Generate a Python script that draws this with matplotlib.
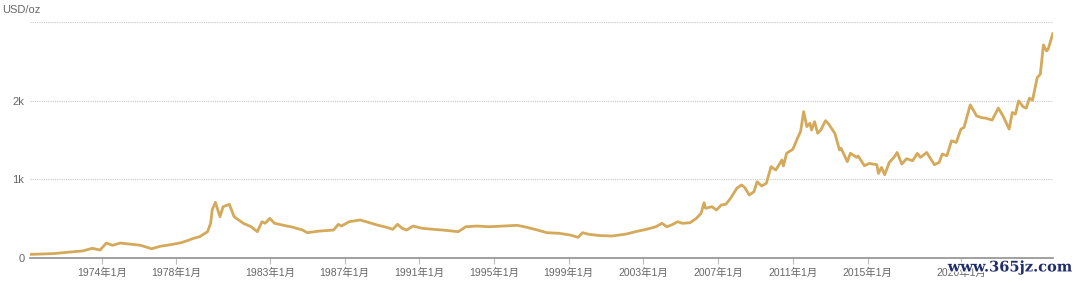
import pandas as pd
import matplotlib
matplotlib.use('Agg')
import matplotlib.pyplot as plt
import matplotlib.dates as mdates
import matplotlib.patheffects as pe

plt.rcParams['font.family'] = ['Liberation Sans', 'Noto Sans CJK SC', 'DejaVu Sans']

# 金价 (USD/oz)，按图读取的月份与数值
meses = [
    '1970-03', '1971-06', '1972-05', '1973-01', '1973-07', '1973-12', '1974-04', '1974-08',
    '1975-01', '1975-07', '1976-02', '1976-09', '1977-03', '1977-09', '1978-04', '1978-08',
    '1978-12', '1979-04', '1979-09', '1979-11', '1979-12', '1980-02', '1980-05', '1980-07',
    '1980-11', '1981-02', '1981-05', '1981-08', '1982-01', '1982-05', '1982-08', '1982-10',
    '1983-01', '1983-04', '1983-09', '1984-04', '1984-10', '1985-01', '1985-09', '1986-06',
    '1986-09', '1986-11', '1987-04', '1987-11', '1988-03', '1988-10', '1989-04', '1989-08',
    '1989-11', '1990-02', '1990-05', '1990-09', '1991-03', '1991-10', '1992-04', '1992-10',
    '1993-02', '1993-07', '1994-02', '1994-10', '1995-07', '1996-04', '1996-10', '1997-05',
    '1997-11', '1998-07', '1999-02', '1999-07', '1999-10', '2000-02', '2000-09', '2001-05',
    '2002-02', '2002-08', '2003-03', '2003-09', '2004-01', '2004-04', '2004-07', '2004-11',
    '2005-02', '2005-07', '2005-11', '2006-02', '2006-04', '2006-05', '2006-09', '2006-12',
    '2007-03', '2007-06', '2007-09', '2008-01', '2008-04', '2008-06', '2008-09', '2008-12',
    '2009-02', '2009-05', '2009-08', '2009-11', '2010-02', '2010-06', '2010-07', '2010-09',
    '2011-01', '2011-04', '2011-06', '2011-08', '2011-10', '2011-12', '2012-01', '2012-03',
    '2012-05', '2012-07', '2012-10', '2012-12', '2013-04', '2013-07', '2013-08', '2013-12',
    '2014-02', '2014-06', '2014-07', '2014-11', '2015-02', '2015-07', '2015-08', '2015-10',
    '2015-12', '2016-03', '2016-06', '2016-08', '2016-11', '2017-02', '2017-06', '2017-09',
    '2017-11', '2018-03', '2018-08', '2018-11', '2019-01', '2019-04', '2019-07', '2019-10',
    '2020-01', '2020-03', '2020-07', '2020-08', '2020-11', '2021-02', '2021-05', '2021-09',
    '2022-01', '2022-04', '2022-08', '2022-10', '2022-12', '2023-02', '2023-05', '2023-07',
    '2023-09', '2023-11', '2024-02', '2024-04', '2024-06', '2024-08', '2024-09', '2024-12',
]
precos = [
    40, 50, 70, 85, 118, 96, 185, 156,
    185, 172, 156, 112, 145, 163, 189, 215,
    245, 266, 330, 437, 607, 705, 521, 649,
    679, 521, 479, 437, 393, 330, 457, 437,
    500, 437, 415, 386, 351, 317, 338, 351,
    424, 402, 457, 479, 457, 415, 386, 360,
    424, 373, 351, 402, 373, 360, 351, 338,
    330, 393, 402, 393, 402, 411, 386, 351,
    317, 309, 287, 258, 317, 296, 280, 275,
    300, 330, 360, 393, 437, 393, 415, 457,
    437, 444, 500, 564, 700, 628, 649, 607,
    670, 680, 756, 884, 926, 897, 798, 840,
    968, 913, 948, 1160, 1117, 1245, 1169, 1331,
    1382, 1522, 1607, 1862, 1671, 1714, 1628, 1734,
    1586, 1628, 1747, 1705, 1586, 1373, 1395, 1224,
    1331, 1278, 1296, 1172, 1201, 1185, 1074, 1150,
    1057, 1214, 1278, 1341, 1193, 1261, 1236, 1329,
    1278, 1341, 1185, 1214, 1321, 1299, 1490, 1469,
    1639, 1660, 1949, 1915, 1809, 1787, 1779, 1754,
    1907, 1809, 1639, 1851, 1830, 2000, 1924, 1907,
    2034, 2009, 2297, 2340, 2713, 2637, 2658, 2857,
]
anos_ticks = [1974, 1978, 1983, 1987, 1991, 1995, 1999, 2003, 2007, 2011, 2015, 2020]
y_ticks = [0, 1000, 2000, 3000]
y_labels = ['0', '1k', '2k', '']

datas = pd.to_datetime(meses)

fig = plt.figure(figsize=(10.8, 2.83), dpi=100)
ax = fig.add_axes([0.0278, 0.090, 0.947, 0.8305])

ax.plot(datas, precos, color='#D4A95A', linewidth=2.0, solid_joinstyle='round')

ax.set_xlim(datas[0], datas[-1])
ax.set_ylim(0, 3000)

ax.set_yticks(y_ticks)
ax.set_yticklabels(y_labels)
ax.tick_params(axis='y', length=0, pad=4, labelsize=8, labelcolor='#666666')
ax.yaxis.grid(True, color='#c8c8c8', linestyle=(0, (1, 1)), linewidth=0.8)

tick_datas = [pd.Timestamp(f'{a}-01-01') for a in anos_ticks]
ax.set_xticks(tick_datas)
ax.set_xticklabels([f'{a}年1月' for a in anos_ticks])
ax.tick_params(axis='x', length=4.5, width=0.8, color='#bbbbbb', pad=3,
               labelsize=7.5, labelcolor='#666666')

for lado in ['top', 'right', 'left']:
    ax.spines[lado].set_visible(False)
ax.spines['bottom'].set_color('#999999')
ax.spines['bottom'].set_linewidth(1.3)

fig.text(0.002, 0.965, 'USD/oz', ha='left', va='center', fontsize=8, color='#666666')

fig.text(0.993, 0.055, 'www.365jz.com', ha='right', va='center', fontsize=10.5,
         color='#1f2d6b', family=['DejaVu Serif'], fontweight='bold',
         path_effects=[pe.withStroke(linewidth=2, foreground='white')])

fig.savefig('out.png', dpi=100)
